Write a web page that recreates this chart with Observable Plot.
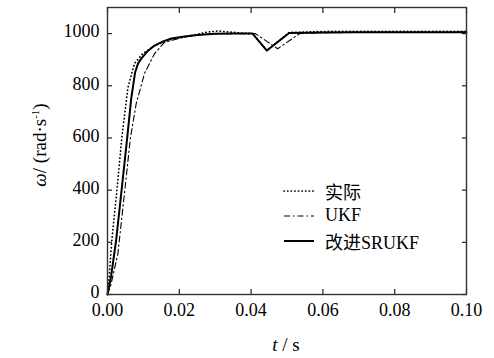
<!DOCTYPE html>
<html>
<head>
<meta charset="utf-8">
<script src="https://cdn.jsdelivr.net/npm/d3@7"></script>
<script src="https://cdn.jsdelivr.net/npm/@observablehq/plot@0.6"></script>
<style>
  body { margin: 0; background: #fff; }
  #wrap { position: relative; width: 494px; height: 358px; font-family: "Liberation Serif", "Times New Roman", Tinos, "DejaVu Serif", "Noto Sans CJK SC", serif; color: #000; }
  .lbl { position: absolute; font-size: 19px; white-space: nowrap; }
  #legend { position: absolute; left: 283px; top: 178px; font-size: 18px; }
  #legend .row { display: flex; align-items: center; height: 25px; }
  #legend svg { margin-right: 10px; }
  svg text { font-family: "Liberation Serif", "Times New Roman", Tinos, "DejaVu Serif", serif; }
</style>
</head>
<body>
<div id="wrap"></div>
<script>
// ---- data ----
const actualT = [0, 0.0004, 0.0012, 0.0027, 0.004, 0.0057, 0.0075, 0.0098, 0.0131, 0.017, 0.02, 0.024, 0.0275, 0.0307, 0.034, 0.0375, 0.0404, 0.0444, 0.0506, 0.06, 0.07, 0.08, 0.09, 0.1];
const actualV = [0, 54, 207, 410, 602, 794, 885, 923, 954, 975, 985, 994, 1005, 1010, 1006, 1002, 1000, 935, 1004, 1008, 1009, 1009, 1009, 1009];

const ukfT = [0, 0.001, 0.0029, 0.0049, 0.0064, 0.008, 0.0103, 0.0131, 0.0159, 0.021, 0.025, 0.03, 0.0412, 0.0474, 0.0535, 0.06, 0.07, 0.08, 0.09, 0.1];
const ukfV = [0, 40, 157, 410, 602, 732, 847, 923, 967, 985, 995, 1000, 1000, 942, 1000, 1003, 1005, 1005, 1005, 1006];

const srukfT = [0, 0.001, 0.0024, 0.004, 0.0055, 0.0066, 0.0077, 0.0085, 0.0094, 0.011, 0.0131, 0.0155, 0.0178, 0.021, 0.025, 0.03, 0.035, 0.0404, 0.0444, 0.0506, 0.06, 0.07, 0.08, 0.09, 0.1];
const srukfV = [0, 70, 207, 410, 602, 750, 852, 885, 904, 930, 954, 970, 981, 988, 995, 999, 1000, 1000, 935, 1002, 1004, 1005, 1005, 1005, 1005];

const xTicks = [0, 0.02, 0.04, 0.06, 0.08, 0.10];
const yTicks = [0, 200, 400, 600, 800, 1000];
const seriesNames = ["实际", "UKF", "改进SRUKF"];

const toRows = (ts, vs) => ts.map((t, i) => ({t, v: vs[i]}));
const actual = toRows(actualT, actualV);
const ukf = toRows(ukfT, ukfV);
const srukf = toRows(srukfT, srukfV);

const styles = [
  {stroke: "#000", strokeWidth: 1.7, strokeDasharray: "0.3,3.3", strokeLinecap: "round"},
  {stroke: "#000", strokeWidth: 1.1, strokeDasharray: "6,3,1.5,3"},
  {stroke: "#000", strokeWidth: 2}
];

const serif = "'Liberation Serif', 'Times New Roman', Tinos, 'DejaVu Serif', serif";

const plot = Plot.plot({
  width: 494,
  height: 358,
  marginLeft: 107,
  marginRight: 28,
  marginTop: 7,
  marginBottom: 64,
  style: {fontFamily: serif, fontSize: "18px", color: "#000", background: "transparent"},
  x: {domain: [0, 0.1]},
  y: {domain: [0, 1100]},
  marks: [
    Plot.axisX(xTicks, {anchor: "bottom", tickSize: 0, tickPadding: 9, tickFormat: d => d.toFixed(2), label: null, fontFamily: serif}),
    Plot.axisY(yTicks, {anchor: "left", tickSize: 0, tickPadding: 8, tickFormat: d => String(d), label: null, fontFamily: serif, dy: -2}),
    Plot.axisX(xTicks, {anchor: "bottom", tickSize: 5, dy: -5, tickFormat: () => "", label: null, stroke: "#222", strokeWidth: 1.2}),
    Plot.axisX(xTicks, {anchor: "top", tickSize: 5, dy: 5, tickFormat: () => "", label: null, stroke: "#222", strokeWidth: 1.2}),
    Plot.axisY(yTicks, {anchor: "left", tickSize: 5, dx: 5, tickFormat: () => "", label: null, stroke: "#222", strokeWidth: 1.2}),
    Plot.axisY(yTicks, {anchor: "right", tickSize: 5, dx: -5, tickFormat: () => "", label: null, stroke: "#222", strokeWidth: 1.2}),
    Plot.line(actual, {x: "t", y: "v", ...styles[0]}),
    Plot.line(ukf, {x: "t", y: "v", ...styles[1]}),
    Plot.line(srukf, {x: "t", y: "v", ...styles[2]}),
    Plot.frame({stroke: "#333", strokeWidth: 1.4})
  ]
});

const wrap = document.getElementById("wrap");
wrap.appendChild(plot);

// axis titles
const xl = document.createElement("div");
xl.className = "lbl";
xl.innerHTML = "<i>t</i> / s";
xl.style.left = "286px"; xl.style.top = "334px"; xl.style.transform = "translateX(-50%)";
wrap.appendChild(xl);

const yl = document.createElement("div");
yl.className = "lbl";
yl.innerHTML = "<i>ω</i>/ (rad·s<sup style='font-size:11px'>-1</sup>)";
yl.style.left = "40px"; yl.style.top = "145px";
yl.style.transform = "translate(-50%,-50%) rotate(-90deg)";
wrap.appendChild(yl);

// legend
const leg = document.createElement("div");
leg.id = "legend";
seriesNames.forEach((name, i) => {
  const s = styles[i];
  const row = document.createElement("div");
  row.className = "row";
  row.innerHTML = `<svg width="32" height="6"><line x1="1" y1="3" x2="31" y2="3" stroke="${s.stroke}" stroke-width="${s.strokeWidth}" ${s.strokeDasharray ? `stroke-dasharray="${s.strokeDasharray}"` : ""} ${s.strokeLinecap ? `stroke-linecap="${s.strokeLinecap}"` : ""}/></svg><span>${name}</span>`;
  leg.appendChild(row);
});
wrap.appendChild(leg);
</script>
</body>
</html>
